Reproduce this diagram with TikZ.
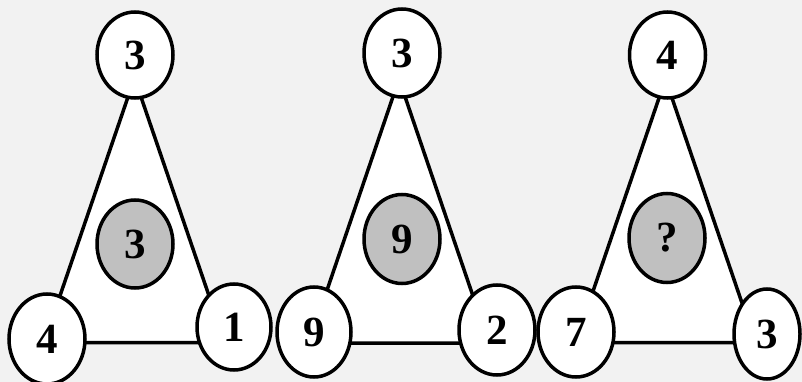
\documentclass[tikz,border=0pt]{standalone}
\usepackage{fontspec}
\setmainfont{Liberation Serif}
\usetikzlibrary{shapes.geometric}
\definecolor{bgc}{HTML}{F2F2F2}
\definecolor{grayc}{HTML}{C0C0C0}
\tikzset{
  numnode/.style={ellipse, draw=black, line width=3.5pt, fill=white, inner sep=0pt,
    font=\fontsize{43}{46}\selectfont\bfseries},
  midnode/.style={numnode, fill=grayc},
  tri/.style={draw=black, line width=3.5pt, fill=white, line join=miter}
}
\begin{document}
\begin{tikzpicture}[x=1pt,y=-1pt]
\fill[bgc] (0,0) rectangle (802,382);
\useasboundingbox (0,0) rectangle (802,382);
% triangle 1
\coordinate (a1) at (134.5,78);
\coordinate (b1) at (44,342.5);
\coordinate (c1) at (225,342.5);
\draw[tri] (a1) -- (b1) -- (c1) -- cycle;
\node[numnode, minimum width=76pt, minimum height=86pt] (t1) at (135,55) {3};
\node[midnode, minimum width=76pt, minimum height=88pt] (m1) at (135,244) {3};
\node[numnode, minimum width=76pt, minimum height=90pt] (l1) at (47,339) {4};
\node[numnode, minimum width=74pt, minimum height=86pt] (r1) at (234,327) {1};
% triangle 2
\coordinate (a2) at (399,79);
\coordinate (b2) at (309,343);
\coordinate (c2) at (489,343);
\draw[tri] (a2) -- (b2) -- (c2) -- cycle;
\node[numnode, minimum width=76pt, minimum height=88pt] (t2) at (402,53) {3};
\node[midnode, minimum width=76pt, minimum height=89pt] (m2) at (402,239) {9};
\node[numnode, minimum width=74pt, minimum height=90pt] (l2) at (314,332) {9};
\node[numnode, minimum width=76pt, minimum height=90pt] (r2) at (497,330) {2};
% triangle 3
\coordinate (a3) at (665.5,79);
\coordinate (b3) at (575.5,342.5);
\coordinate (c3) at (755.5,342.5);
\draw[tri] (a3) -- (b3) -- (c3) -- cycle;
\node[numnode, minimum width=76pt, minimum height=86pt] (t3) at (667.5,55) {4};
\node[midnode, minimum width=76pt, minimum height=89pt] (m3) at (667,238) {?};
\node[numnode, minimum width=76pt, minimum height=90pt] (l3) at (576,332) {7};
\node[numnode, minimum width=66pt, minimum height=90pt] (r3) at (767,334) {3};
\end{tikzpicture}
\end{document}
